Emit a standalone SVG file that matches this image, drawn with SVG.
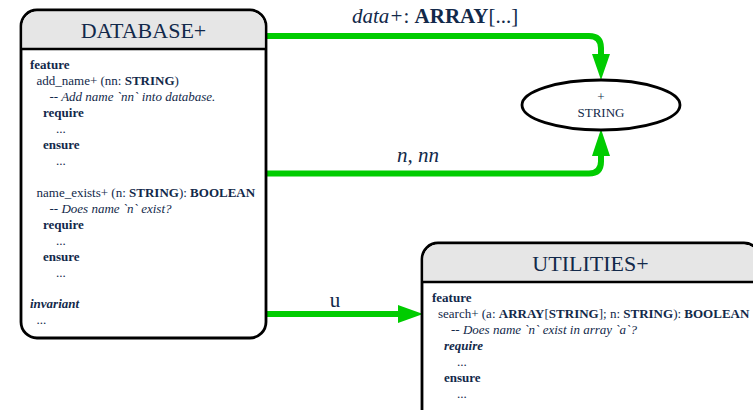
<svg xmlns="http://www.w3.org/2000/svg" width="753" height="410" viewBox="0 0 753 410" font-family="'Liberation Serif', 'Times New Roman', 'DejaVu Serif', serif">
<style>
text{font-family:'Liberation Serif','Times New Roman','DejaVu Serif',serif;fill:#12294a}
.box{fill:#fff;stroke:#000;stroke-width:2.8}
.hdr{fill:#e6e6e6}
.sep{stroke:#000;stroke-width:2.5}
.title{font-size:22px;text-anchor:middle}
.body{font-size:13px}
.b{font-weight:bold}
.i{font-style:italic}
.lbl{font-size:21px}
.conn{fill:none;stroke:#00cc00;stroke-width:6;stroke-linejoin:round}
.head{fill:#00cc00}
</style>
<g id="connectors">
<path class="conn" d="M266,36 H589 Q601,36 601,48 V56"/>
<polygon class="head" points="592,54 610,54 601,80"/>
<text class="lbl" x="352" y="23"><tspan class="i">data+</tspan>: <tspan class="b">ARRAY</tspan>[...]</text>
<path class="conn" d="M266,173.5 H589 Q601,173.5 601,161.5 V156"/>
<polygon class="head" points="592,156 610,156 601,129"/>
<text class="lbl i" x="397" y="162">n, nn</text>
<path class="conn" d="M266,314 H400"/>
<polygon class="head" points="398,305 398,323 423,314"/>
<text class="lbl" x="335" y="307" text-anchor="middle">u</text>
</g>
<g id="database">
<rect class="box" x="21" y="10" width="245" height="328" rx="16"/>
<path class="hdr" d="M37,11.4 H250 A14.6,14.6 0 0 1 264.6,26 V49 H22.4 V26 A14.6,14.6 0 0 1 37,11.4 Z"/>
<line class="sep" x1="21" y1="49" x2="266" y2="49"/>
<text class="title" x="143.5" y="38">DATABASE+</text>
<text class="body b" x="30" y="69">feature</text>
<text class="body" x="36.5" y="85">add_name+ (nn: <tspan class="b">STRING</tspan>)</text>
<text class="body i" x="49.5" y="101">-- Add name `nn` into database.</text>
<text class="body b" x="43" y="117">require</text>
<text class="body" x="56" y="133">...</text>
<text class="body b" x="43" y="149">ensure</text>
<text class="body" x="56" y="165">...</text>
<text class="body" x="36.5" y="197">name_exists+ (n: <tspan class="b">STRING</tspan>): <tspan class="b">BOOLEAN</tspan></text>
<text class="body i" x="49.5" y="213">-- Does name `n` exist?</text>
<text class="body b" x="43" y="229">require</text>
<text class="body" x="56" y="245">...</text>
<text class="body b" x="43" y="261">ensure</text>
<text class="body" x="56" y="277">...</text>
<text class="body b i" x="30" y="308">invariant</text>
<text class="body" x="36.5" y="324">...</text>
</g>
<g id="string">
<ellipse cx="601" cy="105" rx="79" ry="25" fill="#fff" stroke="#000" stroke-width="2.8"/>
<text x="601" y="101" font-size="13" text-anchor="middle">+</text>
<text x="601" y="117" font-size="13" text-anchor="middle">STRING</text>
</g>
<g id="utilities">
<rect class="box" x="422" y="243" width="338" height="200" rx="16"/>
<path class="hdr" d="M438,244.4 H744 A14.6,14.6 0 0 1 758.6,259 V282 H423.4 V259 A14.6,14.6 0 0 1 438,244.4 Z"/>
<line class="sep" x1="422" y1="282" x2="760" y2="282"/>
<text class="title" x="590.5" y="271">UTILITIES+</text>
<text class="body b" x="432" y="302">feature</text>
<text class="body" x="438" y="318">search+ (a: <tspan class="b">ARRAY</tspan>[<tspan class="b">STRING</tspan>]; n: <tspan class="b">STRING</tspan>): <tspan class="b">BOOLEAN</tspan></text>
<text class="body i" x="451" y="334">-- Does name `n` exist in array `a`?</text>
<text class="body b i" x="444" y="350">require</text>
<text class="body" x="457" y="366">...</text>
<text class="body b" x="444" y="382">ensure</text>
<text class="body" x="457" y="398">...</text>
</g>
</svg>
